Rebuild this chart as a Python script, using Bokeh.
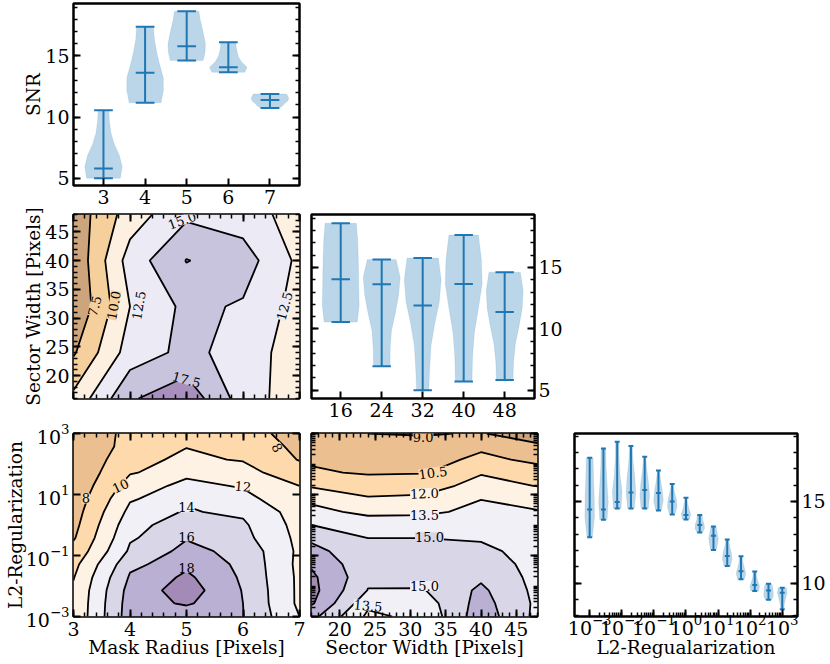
from bokeh.embed import file_html
from bokeh.layouts import column, row
from bokeh.models import CustomJSTickFormatter, FixedTicker, Label, LinearAxis, LogAxis, LogTickFormatter
from bokeh.plotting import figure
from bokeh.resources import INLINE

FONT = "DejaVu Serif"
BLUE = "#1f77b4"

radius = [3, 4, 5, 6, 7]
sector = [16, 24, 32, 40, 48]
l2 = [10 ** (-3 + i * 6 / 14) for i in range(15)]

# violin panels: min, median, max and the relative width from bottom to top
radius_min = [5.0, 11.17, 14.62, 13.66, 10.74]
radius_med = [5.8, 13.63, 15.8, 14.07, 11.39]
radius_max = [10.55, 17.38, 18.66, 16.12, 11.89]
radius_widths = [
    [.9, 1, .85, .58, .4, .32, .28],
    [.85, .98, .97, .78, .62, .5, .45],
    [.88, .98, 1, .92, .82, .72, .65],
    [.88, 1, .72, .55, .47, .42, .4],
    [.5, .68, .8, .95, 1, .96, .88],
]

sector_min = [10.55, 6.94, 5.0, 5.71, 5.82]
sector_med = [14.04, 13.63, 11.91, 13.66, 11.37]
sector_max = [18.6, 15.66, 15.77, 17.65, 14.62]
sector_widths = [
    [.9, 1, .98, .97, .95, .92, .85],
    [.45, .46, .53, .74, .92, 1, .78],
    [.33, .38, .45, .65, .9, 1, .85],
    [.45, .48, .58, .8, 1, .96, .8],
    [.45, .48, .58, .78, .95, 1, .85],
]

l2_min = [12.81, 13.87, 14.57, 14.57, 14.57, 14.45, 14.2, 13.89, 13.09, 12.03, 11.05, 10.23, 9.51, 8.98, 8.4]
l2_med = [14.51, 14.51, 14.96, 15.55, 15.7, 15.51, 15.0, 14.16, 13.55, 12.89, 11.66, 10.72, 9.88, 9.55, 9.41]
l2_max = [17.68, 18.24, 18.65, 18.4, 17.73, 16.89, 16.07, 15.23, 14.16, 13.46, 12.66, 11.64, 10.7, 9.96, 9.71]
l2_widths = [
    [.55, 1, .95, .8, .7],
    [.75, 1, .75, .55, .5],
    [.8, 1, .6, .4, .35],
    [.7, 1, .8, .45, .3],
    [.75, 1, .8, .45, .2],
    [.6, 1, .8, .45, .2],
    [.55, 1, .85, .45, .2],
    [.75, 1, .6, .35, .2],
    [.6, 1, .9, .6, .55],
    [.6, .85, 1, .75, .55],
    [.65, 1, .85, .5, .3],
    [.7, 1, .7, .4, .3],
    [.8, 1, .65, .4, .3],
    [.7, 1, .95, .9, .65],
    [.35, .45, .7, 1, .85],
]

# contour grids, one row per y value
snr_radius_sector = [
    [10.6, 17.2, 19.2, 13.8, 11.0],
    [7.2, 13.65, 15.65, 14.03, 10.97],
    [5.2, 12.5, 15.6, 14.73, 11.55],
    [5.4, 13.6, 17.6, 16.2, 11.9],
    [5.9, 11.2, 14.5, 13.7, 11.4],
]
snr_radius_l2 = [
    [10.35, 17.0, 17.0, 16.05, 12.0],
    [10.3, 16.9, 18.3, 16.0, 11.6],
    [10.2, 16.7, 19.0, 15.9, 11.6],
    [9.9, 16.2, 18.4, 15.7, 11.6],
    [9.4, 15.4, 17.3, 15.6, 11.5],
    [8.5, 14.3, 16.6, 15.35, 11.6],
    [7.8, 13.7, 15.8, 14.62, 11.5],
    [7.4, 13.2, 15.2, 14.3, 11.3],
    [7.1, 12.5, 14.2, 13.5, 11.2],
    [6.8, 11.7, 13.6, 12.5, 10.8],
    [6.5, 10.8, 12.6, 11.8, 10.0],
    [6.4, 9.8, 11.2, 10.8, 8.6],
    [6.3, 9.2, 10.5, 9.8, 7.9],
    [6.2, 8.7, 9.9, 9.4, 7.5],
    [6.2, 8.6, 9.2, 8.9, 7.1],
]
snr_sector_l2 = [
    [17.0, 13.2, 13.9, 17.4, 14.6],
    [18.2, 14.0, 14.3, 17.1, 14.7],
    [18.5, 14.95, 14.95, 16.8, 14.6],
    [18.3, 15.5, 15.4, 16.1, 14.6],
    [17.7, 15.5, 15.6, 15.7, 14.55],
    [17.0, 15.4, 15.4, 15.3, 14.5],
    [16.0, 15.0, 15.0, 14.8, 14.3],
    [15.0, 14.1, 14.1, 14.4, 14.0],
    [14.0, 13.1, 13.2, 13.9, 13.6],
    [12.9, 12.1, 12.2, 13.45, 12.6],
    [11.8, 11.2, 11.3, 12.6, 11.95],
    [10.75, 10.3, 10.4, 11.8, 10.9],
    [10.1, 9.7, 9.8, 10.9, 10.15],
    [9.6, 9.4, 9.3, 10.0, 9.2],
    [9.1, 9.0, 8.9, 9.1, 8.1],
]

levels_a = [5, 7.5, 10, 12.5, 15, 17.5, 20]
colors_a = ["#cca57c", "#f5cf9c", "#fdf0e0", "#ecebf5", "#c9c4de", "#a88fbe"]
levels_b = [6, 8, 10, 12, 14, 16, 18, 20]
colors_b = ["#ebbf8f", "#fdd9ac", "#fef2e5", "#f1f0f7", "#d9d6e8", "#bab0d3", "#a48bb7"]
levels_c = [7.5, 9, 10.5, 12, 13.5, 15, 16.5, 18, 19.5]
colors_c = ["#c9a47e", "#ebbf8f", "#fdd9ac", "#fef2e5", "#f1f0f7", "#d9d6e8", "#bab0d3", "#a48bb7"]

# contour labels: text, x, y, angle in degrees, colour behind the text
labels_a = [
    ("7.5", 3.37, 32.1, 75, "#f5cf9c"), ("10.0", 3.71, 32.2, 80, "#f5cf9c"),
    ("12.5", 4.15, 32.2, 80, "#ecebf5"), ("12.5", 6.73, 32.1, 75, "#ecebf5"),
    ("15.0", 4.92, 47, 20, "#ecebf5"), ("17.5", 5.0, 19.3, -15, "#c9c4de"),
]
labels_b = [
    ("8", 3.22, 10 ** .87, 0, "#fdd9ac"), ("8", 6.61, 10 ** 2.54, -60, "#fdd9ac"),
    ("10", 3.83, 10 ** 1.29, 25, "#fdd9ac"), ("12", 6.0, 10 ** 1.27, -5, "#fef2e5"),
    ("14", 5.0, 10 ** .58, 0, "#f1f0f7"), ("16", 5.0, 10 ** -.38, 0, "#d9d6e8"),
    ("18", 5.0, 10 ** -1.41, 0, "#bab0d3"),
]
labels_c = [
    ("9.0", 31.8, 10 ** 2.88, 0, "#ebbf8f"), ("10.5", 33.2, 10 ** 1.72, 8, "#fdd9ac"),
    ("12.0", 32.0, 10 ** 1.04, 2, "#fef2e5"), ("13.5", 32.0, 10 ** .33, 0, "#f1f0f7"),
    ("15.0", 32.7, 10 ** -.4, 0, "#d9d6e8"), ("15.0", 32.0, 10 ** -2.0, 0, "#f1f0f7"),
    ("13.5", 24.0, 10 ** -2.64, -5, "#f1f0f7"),
]


def frange(start, stop, step):
    n = int(round((stop - start) / step))
    return [start + i * step for i in range(n + 1)]


l2_major = [10.0 ** e for e in (-3, -1, 1, 3)]
l2_minor = [m * 10.0 ** e for e in range(-3, 3) for m in range(2, 10)] + [10.0 ** e for e in range(-3, 4)]


def make_fig(w, h, left, right, top, bottom, x_range, y_range, x_log=False, y_log=False):
    p = figure(width=w, height=h, min_border_left=left, min_border_right=right,
               min_border_top=top, min_border_bottom=bottom,
               x_range=x_range, y_range=y_range,
               x_axis_type="log" if x_log else "linear",
               y_axis_type="log" if y_log else "linear",
               x_axis_location=None, y_axis_location=None,
               output_backend="svg", toolbar_location=None)
    p.grid.visible = False
    p.outline_line_color = "black"
    p.outline_line_width = 2.5
    p.background_fill_color = "white"
    return p


def add_axis(p, side, major, minor, log=False, labels=True, label=None, gap=0, tick_gap=4):
    cls = LogAxis if log else LinearAxis
    ax = cls(ticker=FixedTicker(ticks=major, minor_ticks=minor))
    ax.axis_line_color = None
    ax.major_tick_in = 7
    ax.major_tick_out = 0
    ax.minor_tick_in = 4
    ax.minor_tick_out = 0
    ax.major_tick_line_width = 2
    ax.minor_tick_line_width = 1.5
    ax.major_tick_line_color = "black"
    ax.minor_tick_line_color = "black"
    ax.major_label_text_font = FONT
    ax.major_label_text_font_size = "19px"
    ax.major_label_text_color = "black"
    ax.major_label_standoff = tick_gap
    if log:
        ax.formatter = LogTickFormatter()
    if not labels:
        ax.formatter = CustomJSTickFormatter(code="return ''")
        ax.major_label_text_font_size = "1px"
        ax.major_label_standoff = 0
    if label:
        ax.axis_label = label
        ax.axis_label_text_font = FONT
        ax.axis_label_text_font_size = "18.5px"
        ax.axis_label_text_font_style = "normal"
        ax.axis_label_text_color = "black"
        ax.axis_label_standoff = gap
    p.add_layout(ax, side)
    return ax


def draw_violins(p, pos, lo, med, hi, widths, half, cap, log=False):
    xs, ys = [], []
    for c, a, b, w in zip(pos, lo, hi, widths):
        n = len(w)
        yy = [a + (b - a) * i / (n - 1) for i in range(n)]
        if log:
            left = [c * 10 ** (-half * f) for f in w]
            right = [c * 10 ** (half * f) for f in w]
        else:
            left = [c - half * f for f in w]
            right = [c + half * f for f in w]
        xs.append(left + right[::-1])
        ys.append(yy + yy[::-1])
    p.patches(xs, ys, fill_color=BLUE, fill_alpha=.3, line_color=BLUE, line_alpha=.1)
    p.segment(pos, lo, pos, hi, line_color=BLUE, line_width=2)
    for vals in (lo, med, hi):
        if log:
            x0 = [c * 10 ** -cap for c in pos]
            x1 = [c * 10 ** cap for c in pos]
        else:
            x0 = [c - cap for c in pos]
            x1 = [c + cap for c in pos]
        p.segment(x0, vals, x1, vals, line_color=BLUE, line_width=2)


def draw_contour(p, x, y, z, levels, colors, labels):
    p.contour(x, y, z, levels, fill_color=colors, line_color="black", line_width=1.8)
    for text, lx, ly, ang, bg in labels:
        p.add_layout(Label(x=lx, y=ly, text=text, angle=ang, angle_units="deg",
                           text_align="center", text_baseline="middle",
                           text_font=FONT, text_font_size="13px", text_color="black",
                           background_fill_color=bg, x_units="data", y_units="data"))


# top: SNR against mask radius
f1 = make_fig(305, 206, 73, 6, 3, 21, (2.28, 7.71), (4.4, 19.29))
draw_violins(f1, radius, radius_min, radius_med, radius_max, radius_widths, .45, .225)
add_axis(f1, "left", [5, 10, 15], list(range(5, 20)), label="SNR", gap=-2)
add_axis(f1, "right", [5, 10, 15], list(range(5, 20)), labels=False)
add_axis(f1, "below", radius, [])

# middle left: mask radius against sector width
f2 = make_fig(305, 216, 73, 6, 8, 24, (3, 7), (16, 48))
draw_contour(f2, radius, sector, snr_radius_sector, levels_a, colors_a, labels_a)
add_axis(f2, "left", frange(20, 45, 5), list(range(16, 49)), label="Sector Width [Pixels]", gap=-2)
add_axis(f2, "right", frange(20, 45, 5), list(range(16, 49)), labels=False)
add_axis(f2, "below", radius, frange(3, 7, .2), labels=False)
add_axis(f2, "above", radius, frange(3, 7, .2), labels=False)

# middle right: SNR against sector width
f3 = make_fig(260, 216, 6, 29, 8, 24, (10.3, 53.82), (4.32, 19.32))
draw_violins(f3, sector, sector_min, sector_med, sector_max, sector_widths, 3.6, 1.8)
add_axis(f3, "right", [5, 10, 15], list(range(5, 20)))
add_axis(f3, "left", [5, 10, 15], list(range(5, 20)), labels=False)
add_axis(f3, "below", sector, [])

# bottom left: mask radius against L2
f4 = make_fig(305, 240, 73, 6, 11, 46, (3, 7), (1e-3, 1e3), y_log=True)
draw_contour(f4, radius, l2, snr_radius_l2, levels_b, colors_b, labels_b)
add_axis(f4, "left", l2_major, [], log=True, label="L2-Regularization", gap=-3)
add_axis(f4, "right", l2_major, [], log=True, labels=False)
add_axis(f4, "below", radius, frange(3, 7, .2), label="Mask Radius [Pixels]", gap=-2, tick_gap=5)
add_axis(f4, "above", radius, frange(3, 7, .2), labels=False)

# bottom middle: sector width against L2
f5 = make_fig(250, 240, 6, 18, 11, 46, (16, 48), (1e-3, 1e3), y_log=True)
draw_contour(f5, sector, l2, snr_sector_l2, levels_c, colors_c, labels_c)
add_axis(f5, "left", l2_major, l2_minor, log=True, labels=False)
add_axis(f5, "right", l2_major, l2_minor, log=True, labels=False)
add_axis(f5, "below", frange(20, 45, 5), list(range(16, 49)), label="Sector Width [Pixels]", gap=-2, tick_gap=5)
add_axis(f5, "above", frange(20, 45, 5), list(range(16, 49)), labels=False)

# bottom right: SNR against L2
f6 = make_fig(273, 240, 19, 29, 11, 46, (10 ** -3.473, 10 ** 3.475), (7.95, 19.16), x_log=True)
draw_violins(f6, l2, l2_min, l2_med, l2_max, l2_widths, .15, .077, log=True)
add_axis(f6, "right", [10, 15], list(range(8, 20)))
add_axis(f6, "left", [10, 15], list(range(8, 20)), labels=False)
add_axis(f6, "below", [10.0 ** e for e in range(-3, 4)], l2_minor, log=True, label="L2-Regualarization", gap=-1, tick_gap=-2)

page = column(row(f1), row(f2, f3), row(f4, f5, f6), spacing=0,
              styles={"position": "absolute", "left": "0px", "top": "0px"})

open("out.html", "w").write(file_html(page, INLINE))
